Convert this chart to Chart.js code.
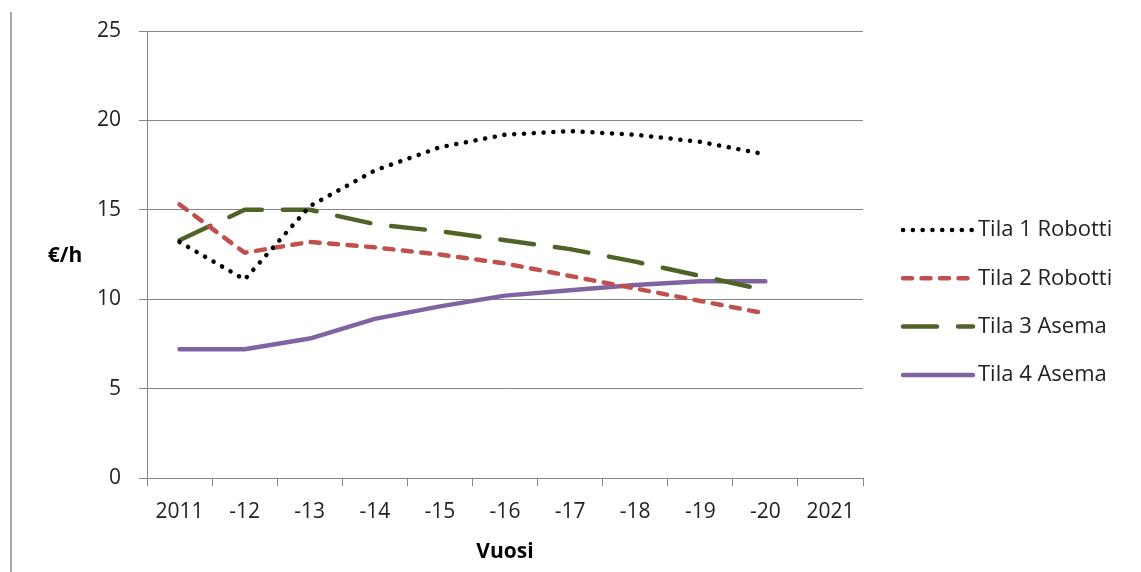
<!DOCTYPE html>
<html>
<head>
<meta charset="utf-8">
<script src="https://cdn.jsdelivr.net/npm/chart.js@4/dist/chart.umd.min.js"></script>
<style>
  html, body { margin: 0; padding: 0; background: #fff; }
  #wrap { position: relative; width: 1141px; height: 572px; }
  #edge { position: absolute; left: 10px; top: 12px; width: 2px; height: 560px; background: #a6a6a6; }
</style>
</head>
<body>
<div id="wrap">
  <div id="edge"></div>
  <canvas id="chLine" width="1141" height="572"></canvas>
</div>
<script>
var vuodet = ['2011', '-12', '-13', '-14', '-15', '-16', '-17', '-18', '-19', '-20', '2021'];
var tila1Robotti = [13.2, 11.1, 15.2, 17.2, 18.5, 19.2, 19.4, 19.2, 18.8, 18.1];
var tila2Robotti = [15.3, 12.6, 13.2, 12.9, 12.5, 12.0, 11.3, 10.6, 9.9, 9.2];
var tila3Asema = [13.3, 15.0, 15.0, 14.2, 13.8, 13.3, 12.8, 12.1, 11.3, 10.5];
var tila4Asema = [7.2, 7.2, 7.8, 8.9, 9.6, 10.2, 10.5, 10.8, 11.0, 11.0];

var fontFam = "'Open Sans', sans-serif";
var gridColor = '#868686';

// legend drawn by hand so it sits where the original has it
var sideLegend = {
    id: 'sideLegend',
    afterDraw: function(chart) {
        var ctx = chart.ctx;
        var x0 = 903, x1 = 973, y = 230, step = 48.3;
        chart.data.datasets.forEach(function(ds, i) {
            var yy = y + i * step;
            ctx.save();
            ctx.strokeStyle = ds.borderColor;
            ctx.lineWidth = ds.borderWidth;
            ctx.lineCap = ds.borderCapStyle || 'butt';
            ctx.setLineDash(ds.borderDash || []);
            ctx.beginPath();
            ctx.moveTo(x0, yy);
            ctx.lineTo(x1, yy);
            ctx.stroke();
            ctx.restore();
            ctx.save();
            ctx.fillStyle = '#222';
            ctx.font = '22px ' + fontFam;
            ctx.textBaseline = 'middle';
            ctx.fillText(ds.label, 978, yy);
            ctx.restore();
        });
        // y axis title, horizontal like in the original
        ctx.save();
        ctx.fillStyle = '#000';
        ctx.font = 'bold 21px ' + fontFam;
        ctx.textAlign = 'center';
        ctx.textBaseline = 'middle';
        ctx.fillText('€/h', 65, 256);
        ctx.restore();
    }
};

new Chart(document.getElementById('chLine'), {
    type: 'line',
    data: {
        labels: vuodet,
        datasets: [
            { label: 'Tila 1 Robotti', data: tila1Robotti, borderColor: '#000000', borderWidth: 4.5,
              borderDash: [0.1, 9.7], borderCapStyle: 'round' },
            { label: 'Tila 2 Robotti', data: tila2Robotti, borderColor: '#C0504D', borderWidth: 4.5,
              borderDash: [9, 9.5], borderCapStyle: 'round' },
            { label: 'Tila 3 Asema', data: tila3Asema, borderColor: '#4F6228', borderWidth: 4.5,
              borderDash: [34, 21], borderCapStyle: 'round' },
            { label: 'Tila 4 Asema', data: tila4Asema, borderColor: '#8064A2', borderWidth: 4.5,
              borderCapStyle: 'round' }
        ]
    },
    options: {
        responsive: false,
        animation: false,
        elements: { point: { radius: 0 }, line: { tension: 0, borderJoinStyle: 'round' } },
        layout: { padding: { left: 0, top: 31, right: 278, bottom: 0 } },
        plugins: { legend: { display: false }, tooltip: { enabled: false } },
        scales: {
            x: {
                offset: true,
                grid: { offset: true, drawOnChartArea: false, drawTicks: true, tickLength: 8, color: gridColor },
                border: { color: gridColor, width: 1 },
                ticks: { color: '#222', padding: 13, font: { family: fontFam, size: 21 }, maxRotation: 0, autoSkip: false },
                title: { display: true, text: 'Vuosi', color: '#000', font: { family: fontFam, size: 21, weight: 'bold' },
                         padding: { top: 0, bottom: 7 } },
                afterFit: function(scale) { scale.height = 94; }
            },
            y: {
                min: 0, max: 25,
                grid: { color: gridColor, tickLength: 8, drawTicks: true },
                border: { color: gridColor, width: 1 },
                ticks: { stepSize: 5, color: '#222', padding: 18, font: { family: fontFam, size: 21 } },
                afterFit: function(scale) { scale.width = 147; }
            }
        }
    },
    plugins: [sideLegend]
});
</script>
</body>
</html>
